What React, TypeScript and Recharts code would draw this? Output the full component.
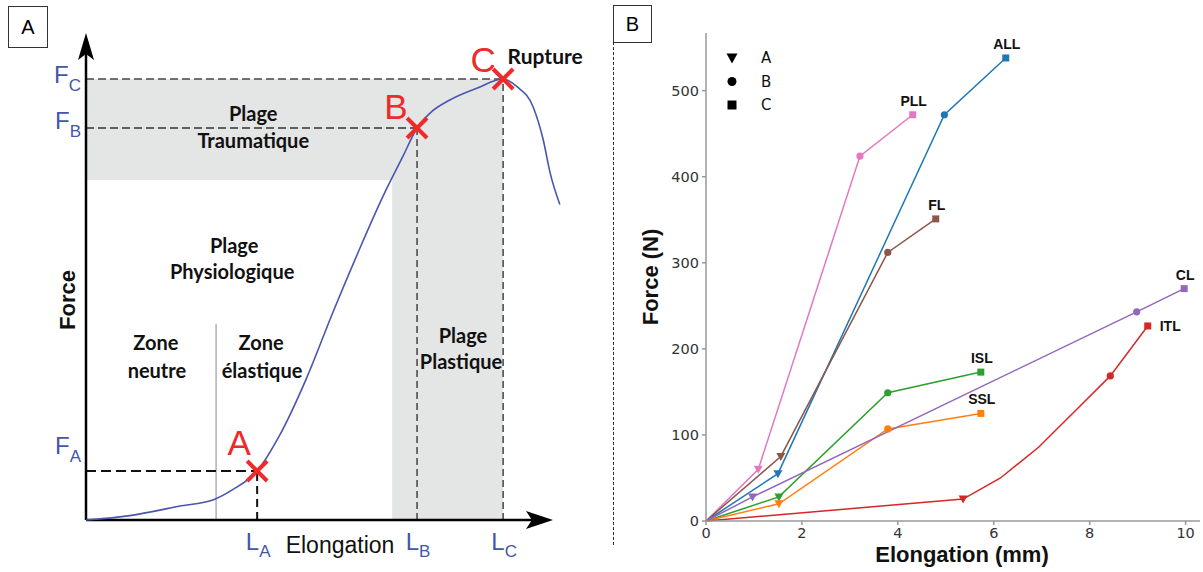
import React from "react";
import {
  ComposedChart,
  LineChart,
  Line,
  Scatter,
  XAxis,
  YAxis,
  ReferenceArea,
  ReferenceLine,
  LabelList,
  Legend,
} from "recharts";

// ---------- panel A: schematic force / elongation curve (arbitrary units 0..100) ----------
const LA = 35;
const LB = 67.7;
const LC = 85.3;
const FA = 10;
const FB = 80;
const FC = 90;

const lengthTicks = [LA, LB, LC];
const lengthSubs = ["A", "B", "C"];
const forceTicks = [FA, FB, FC];
const forceSubs = ["A", "B", "C"];

const curve = [
  { x: 0, y: 0 },
  { x: 9, y: 0.9 },
  { x: 19, y: 2.8 },
  { x: 26.2, y: 4.2 },
  { x: 30, y: 6.2 },
  { x: 35, y: 10 },
  { x: 39.5, y: 17.1 },
  { x: 45, y: 28.7 },
  { x: 50.5, y: 42.4 },
  { x: 55.9, y: 55.2 },
  { x: 60.7, y: 66 },
  { x: 64.8, y: 74.2 },
  { x: 67.7, y: 80 },
  { x: 70.3, y: 83 },
  { x: 74.4, y: 85.7 },
  { x: 79.9, y: 88.1 },
  { x: 85.3, y: 90 },
  { x: 88.2, y: 88.4 },
  { x: 91.4, y: 84.4 },
  { x: 93.5, y: 77.6 },
  { x: 94.9, y: 70.9 },
  { x: 96.9, y: 64.4 },
];

const crossPoints = [
  { x: LA, y: FA, name: "A" },
  { x: LB, y: FB, name: "B" },
  { x: LC, y: FC, name: "C" },
];

const bandBottom = 69.4;
const bandLeft = 62.6;
const zoneLimit = 26.6;
const zoneTop = 40;

const arrowTips = [
  { x: 95.5, y: 0, dir: "right" },
  { x: 0, y: 99.4, dir: "up" },
];

const notes = [
  { x: 34.2, y: 83.1, text: "Plage" },
  { x: 34.2, y: 77.6, text: "Traumatique" },
  { x: 30.3, y: 56.1, text: "Plage" },
  { x: 29.9, y: 50.8, text: "Physiologique" },
  { x: 14.3, y: 36.3, text: "Zone" },
  { x: 14.5, y: 30.6, text: "neutre" },
  { x: 35.8, y: 36.3, text: "Zone" },
  { x: 36.0, y: 30.6, text: "élastique" },
  { x: 77.1, y: 37.8, text: "Plage" },
  { x: 76.7, y: 32.4, text: "Plastique" },
  { x: 93.9, y: 94.7, text: "Rupture" },
];

// ---------- panel B: measured ligaments ----------
const ALL = [
  { x: 0, y: 0 },
  { x: 1.5, y: 55 },
  { x: 4.97, y: 472 },
  { x: 6.25, y: 538 },
];
const PLL = [
  { x: 0, y: 0 },
  { x: 1.09, y: 60 },
  { x: 3.21, y: 424 },
  { x: 4.31, y: 472 },
];
const FL = [
  { x: 0, y: 0 },
  { x: 1.56, y: 75 },
  { x: 3.79, y: 312 },
  { x: 4.79, y: 351 },
];
const ISL = [
  { x: 0, y: 0 },
  { x: 1.52, y: 28 },
  { x: 3.79, y: 149 },
  { x: 5.73, y: 173 },
];
const SSL = [
  { x: 0, y: 0 },
  { x: 1.52, y: 20 },
  { x: 3.79, y: 107 },
  { x: 5.73, y: 125 },
];
const CL = [
  { x: 0, y: 0 },
  { x: 0.97, y: 28 },
  { x: 8.98, y: 243 },
  { x: 9.97, y: 270 },
];
const ITL = [
  { x: 0, y: 0 },
  { x: 5.36, y: 25.5 },
  { x: 6.14, y: 50 },
  { x: 6.94, y: 86 },
  { x: 7.7, y: 128 },
  { x: 8.43, y: 168.6 },
  { x: 9.21, y: 226.6 },
];
// which point of each series is A / B / C (index in the series)
const ALL_pts = ["", "A", "B", "C"];
const PLL_pts = ["", "A", "B", "C"];
const FL_pts = ["", "A", "B", "C"];
const ISL_pts = ["", "A", "B", "C"];
const SSL_pts = ["", "A", "B", "C"];
const CL_pts = ["", "A", "B", "C"];
const ITL_pts = ["", "A", "", "", "", "B", "C"];

const xTicksB = [0, 2, 4, 6, 8, 10];
const yTicksB = [0, 100, 200, 300, 400, 500];
const legendItems = ["A", "B", "C"];

const series = [
  { name: "ALL", data: ALL, pts: ALL_pts, color: "#1f77b4", side: "top" },
  { name: "PLL", data: PLL, pts: PLL_pts, color: "#e377c2", side: "top" },
  { name: "FL", data: FL, pts: FL_pts, color: "#8c564b", side: "top" },
  { name: "ISL", data: ISL, pts: ISL_pts, color: "#2ca02c", side: "top" },
  { name: "SSL", data: SSL, pts: SSL_pts, color: "#ff7f0e", side: "top" },
  { name: "CL", data: CL, pts: CL_pts, color: "#9467bd", side: "top" },
  { name: "ITL", data: ITL, pts: ITL_pts, color: "#d62728", side: "right" },
];

const BLUE = "#4356a8";
const RED = "#ee2a2a";
const GREY_BAND = "#e4e5e5";
const SANS = "'Liberation Sans', Arial, sans-serif";
const CAL = "Lato, 'Open Sans', sans-serif";

function markerPath(kind: string, cx: number, cy: number) {
  if (kind === "A") return `M${cx - 4.5},${cy - 3.5} L${cx + 4.5},${cy - 3.5} L${cx},${cy + 4.5} Z`;
  if (kind === "C") return `M${cx - 3.5},${cy - 3.5} h7 v7 h-7 Z`;
  return "";
}

function Marker(props: any) {
  const { cx, cy, index, color, pts } = props;
  const kind = pts[index];
  if (!kind) return <g />;
  if (kind === "B") return <circle cx={cx} cy={cy} r={3.6} fill={color} />;
  return <path d={markerPath(kind, cx, cy)} fill={color} />;
}

function LengthTick(props: any) {
  const { x, y, payload } = props;
  const sub = lengthSubs[lengthTicks.indexOf(payload.value)];
  return (
    <text x={x + 1} y={y + 22} textAnchor="middle" fill={BLUE} fontFamily={SANS} fontSize={24}>
      <tspan>L</tspan>
      <tspan dy={7} fontSize={17}>{sub}</tspan>
    </text>
  );
}

const forceDy: Record<string, number> = { A: -17, B: 1, C: 4 };

function ForceTick(props: any) {
  const { x, y, payload } = props;
  const sub = forceSubs[forceTicks.indexOf(payload.value)];
  return (
    <text x={x + 3} y={y + forceDy[sub]} textAnchor="end" fill={BLUE} fontFamily={SANS} fontSize={24}>
      <tspan>F</tspan>
      <tspan dy={8} fontSize={17}>{sub}</tspan>
    </text>
  );
}

const letterOffset: Record<string, number[]> = { A: [-18, -16], B: [-21, -9], C: [-20, -7] };

function Cross(props: any) {
  const { cx, cy, payload } = props;
  const d = 10;
  const off = letterOffset[payload.name];
  return (
    <g>
      <line x1={cx - d} y1={cy - d} x2={cx + d} y2={cy + d} stroke={RED} strokeWidth={4} />
      <line x1={cx - d} y1={cy + d} x2={cx + d} y2={cy - d} stroke={RED} strokeWidth={4} />
      <text x={cx + off[0]} y={cy + off[1]} textAnchor="middle" fill={RED} fontFamily={SANS} fontSize={35}>
        {payload.name}
      </text>
    </g>
  );
}

function Arrow(props: any) {
  const { cx, cy, payload } = props;
  const pts =
    payload.dir === "up"
      ? `${cx},${cy} ${cx + 8},${cy + 27} ${cx},${cy + 21} ${cx - 8},${cy + 27}`
      : `${cx},${cy} ${cx - 27},${cy + 9} ${cx - 21},${cy} ${cx - 27},${cy - 9}`;
  return <polygon points={pts} fill="#000" />;
}

function Note(props: any) {
  const { cx, cy, payload } = props;
  return (
    <text
      x={cx}
      y={cy}
      textAnchor="middle"
      dominantBaseline="central"
      fill="#111"
      fontFamily={CAL}
      fontWeight="bold"
      fontSize={payload.text === "Rupture" ? 21 : 20}
    >
      {payload.text}
    </text>
  );
}

function PanelA() {
  return (
    <ComposedChart width={610} height={572} margin={{ top: 30, right: 35, bottom: 0, left: 0 }}>
      <XAxis
        dataKey="x"
        type="number"
        domain={[0, 100]}
        ticks={lengthTicks}
        interval={0}
        axisLine={false}
        tickLine={false}
        tick={<LengthTick />}
        height={52}
        label={{
          content: (p: any) => (
            <text x={p.viewBox.x + 254} y={p.viewBox.y + 25} textAnchor="middle" dominantBaseline="central" fill="#111" fontFamily={SANS} fontSize={23}>
              Elongation
            </text>
          ),
        }}
      />
      <YAxis
        dataKey="y"
        type="number"
        domain={[0, 100]}
        ticks={forceTicks}
        interval={0}
        axisLine={false}
        tickLine={false}
        tick={<ForceTick />}
        width={86}
        label={{
          content: () => (
            <text
              x={67}
              y={300}
              transform="rotate(-90 67 300)"
              textAnchor="middle"
              dominantBaseline="central"
              fill="#111"
              fontFamily={SANS}
              fontWeight="bold"
              fontSize={22}
            >
              Force
            </text>
          ),
        }}
      />
      <ReferenceArea x1={0} x2={LC} y1={bandBottom} y2={FC} fill={GREY_BAND} fillOpacity={1} stroke="none" />
      <ReferenceArea x1={bandLeft} x2={LC} y1={0} y2={FC} fill={GREY_BAND} fillOpacity={1} stroke="none" />
      <ReferenceLine segment={[{ x: zoneLimit, y: 0 }, { x: zoneLimit, y: zoneTop }]} stroke="#888" strokeWidth={1} />
      <ReferenceLine segment={[{ x: 0, y: FC }, { x: LC, y: FC }]} stroke="#444" strokeWidth={1.5} strokeDasharray="8 4" />
      <ReferenceLine segment={[{ x: 0, y: FB }, { x: LB, y: FB }]} stroke="#333" strokeWidth={1.5} strokeDasharray="8 4" />
      <ReferenceLine segment={[{ x: 0, y: FA }, { x: LA, y: FA }]} stroke="#111" strokeWidth={2} strokeDasharray="10 5" />
      <ReferenceLine segment={[{ x: LA, y: 0 }, { x: LA, y: FA }]} stroke="#111" strokeWidth={2} strokeDasharray="8 5" />
      <ReferenceLine segment={[{ x: LB, y: 0 }, { x: LB, y: FB }]} stroke="#444" strokeWidth={1.5} strokeDasharray="7 4" />
      <ReferenceLine segment={[{ x: LC, y: 0 }, { x: LC, y: FC }]} stroke="#444" strokeWidth={1.5} strokeDasharray="7 4" />
      <ReferenceLine segment={[{ x: 0, y: 0 }, { x: 91.5, y: 0 }]} stroke="#000" strokeWidth={2.5} />
      <ReferenceLine segment={[{ x: 0, y: 0 }, { x: 0, y: 95.5 }]} stroke="#000" strokeWidth={2.5} />
      <Line data={curve} dataKey="y" type="monotone" stroke="#4a55b0" strokeWidth={1.6} dot={false} activeDot={false} isAnimationActive={false} />
      <Scatter data={arrowTips} dataKey="y" shape={<Arrow />} isAnimationActive={false} />
      <Scatter data={crossPoints} dataKey="y" shape={<Cross />} isAnimationActive={false} />
      <Scatter data={notes} dataKey="y" shape={<Note />} isAnimationActive={false} />
    </ComposedChart>
  );
}

function LegendBox() {
  return (
    <svg width={60} height={75}>
      {legendItems.map((k, i) => (
        <g key={k}>
          {k === "B" ? (
            <circle cx={9} cy={12 + i * 23.5} r={4.5} fill="#000" />
          ) : (
            <path
              d={
                k === "A"
                  ? `M${3.5},${12 + i * 23.5 - 4.5} L${14.5},${12 + i * 23.5 - 4.5} L9,${12 + i * 23.5 + 5.5} Z`
                  : `M${4.5},${12 + i * 23.5 - 4.5} h9 v9 h-9 Z`
              }
              fill="#000"
            />
          )}
          <text x={38} y={12 + i * 23.5} dominantBaseline="central" fontFamily="'DejaVu Sans', sans-serif" fontSize={15} fill="#111">
            {k}
          </text>
        </g>
      ))}
    </svg>
  );
}

function PanelB() {
  return (
    <LineChart width={590} height={572} margin={{ top: 33, right: 3, bottom: 0, left: 0 }}>
      <XAxis
        dataKey="x"
        type="number"
        domain={[0, 10.3]}
        ticks={xTicksB}
        interval={0}
        height={51}
        stroke="#999"
        strokeWidth={1.5}
        tickSize={4}
        tick={{ fill: "#333", fontSize: 14.5, fontFamily: "'DejaVu Sans', sans-serif" }}
        tickMargin={3}
        label={{
          content: () => (
            <text x={349} y={554} textAnchor="middle" dominantBaseline="central" fill="#111" fontFamily={SANS} fontWeight="bold" fontSize={22}>
              Elongation (mm)
            </text>
          ),
        }}
      />
      <YAxis
        type="number"
        domain={[0, 567]}
        ticks={yTicksB}
        interval={0}
        width={93}
        stroke="#999"
        strokeWidth={1.5}
        tickSize={4}
        tick={{ fill: "#333", fontSize: 14.5, fontFamily: "'DejaVu Sans', sans-serif" }}
        tickMargin={3}
        label={{
          content: () => (
            <text
              x={37}
              y={277}
              transform="rotate(-90 37 277)"
              textAnchor="middle"
              dominantBaseline="central"
              fill="#111"
              fontFamily={SANS}
              fontWeight="bold"
              fontSize={22}
            >
              Force (N)
            </text>
          ),
        }}
      />
      <Legend
        layout="horizontal"
        verticalAlign="middle"
        align="center"
        wrapperStyle={{ left: 110, top: 46, width: 60, height: 75 }}
        content={() => <LegendBox />}
      />
      {series.map((s) => (
        <Line
          key={s.name}
          data={s.data}
          dataKey="y"
          type="linear"
          stroke={s.color}
          strokeWidth={1.5}
          dot={(p: any) => <Marker key={`${s.name}-${p.index}`} {...p} color={s.color} pts={s.pts} />}
          activeDot={false}
          isAnimationActive={false}
        >
          <LabelList
            dataKey="y"
            content={(p: any) =>
              p.index === s.data.length - 1 ? (
                <text
                  x={s.side === "right" ? p.x + 12 : p.x + 1}
                  y={s.side === "right" ? p.y : p.y - 14}
                  textAnchor={s.side === "right" ? "start" : "middle"}
                  dominantBaseline="central"
                  fill="#111"
                  fontFamily={SANS}
                  fontWeight="bold"
                  fontSize={14}
                >
                  {s.name}
                </text>
              ) : null
            }
          />
        </Line>
      ))}
    </LineChart>
  );
}

export default function App() {
  return (
    <div style={{ position: "absolute", left: 0, top: 0, width: 1203, height: 572, background: "#fff", overflow: "hidden" }}>
      <div style={{ position: "absolute", left: 0, top: 0 }}>
        <PanelA />
      </div>
      <div style={{ position: "absolute", left: 613, top: 0 }}>
        <PanelB />
      </div>
      <div style={{ position: "absolute", left: 8, top: 6, width: 38, height: 40, border: "1px solid #333", fontFamily: SANS, fontSize: 20, display: "flex", alignItems: "center", justifyContent: "center" }}>
        A
      </div>
      <div style={{ position: "absolute", left: 613, top: 5, width: 37, height: 36, border: "1px solid #333", fontFamily: SANS, fontSize: 20, display: "flex", alignItems: "center", justifyContent: "center", background: "#fff" }}>
        B
      </div>
      <div style={{ position: "absolute", left: 613, top: 42, height: 503, borderLeft: "1px dashed #333" }} />
    </div>
  );
}
